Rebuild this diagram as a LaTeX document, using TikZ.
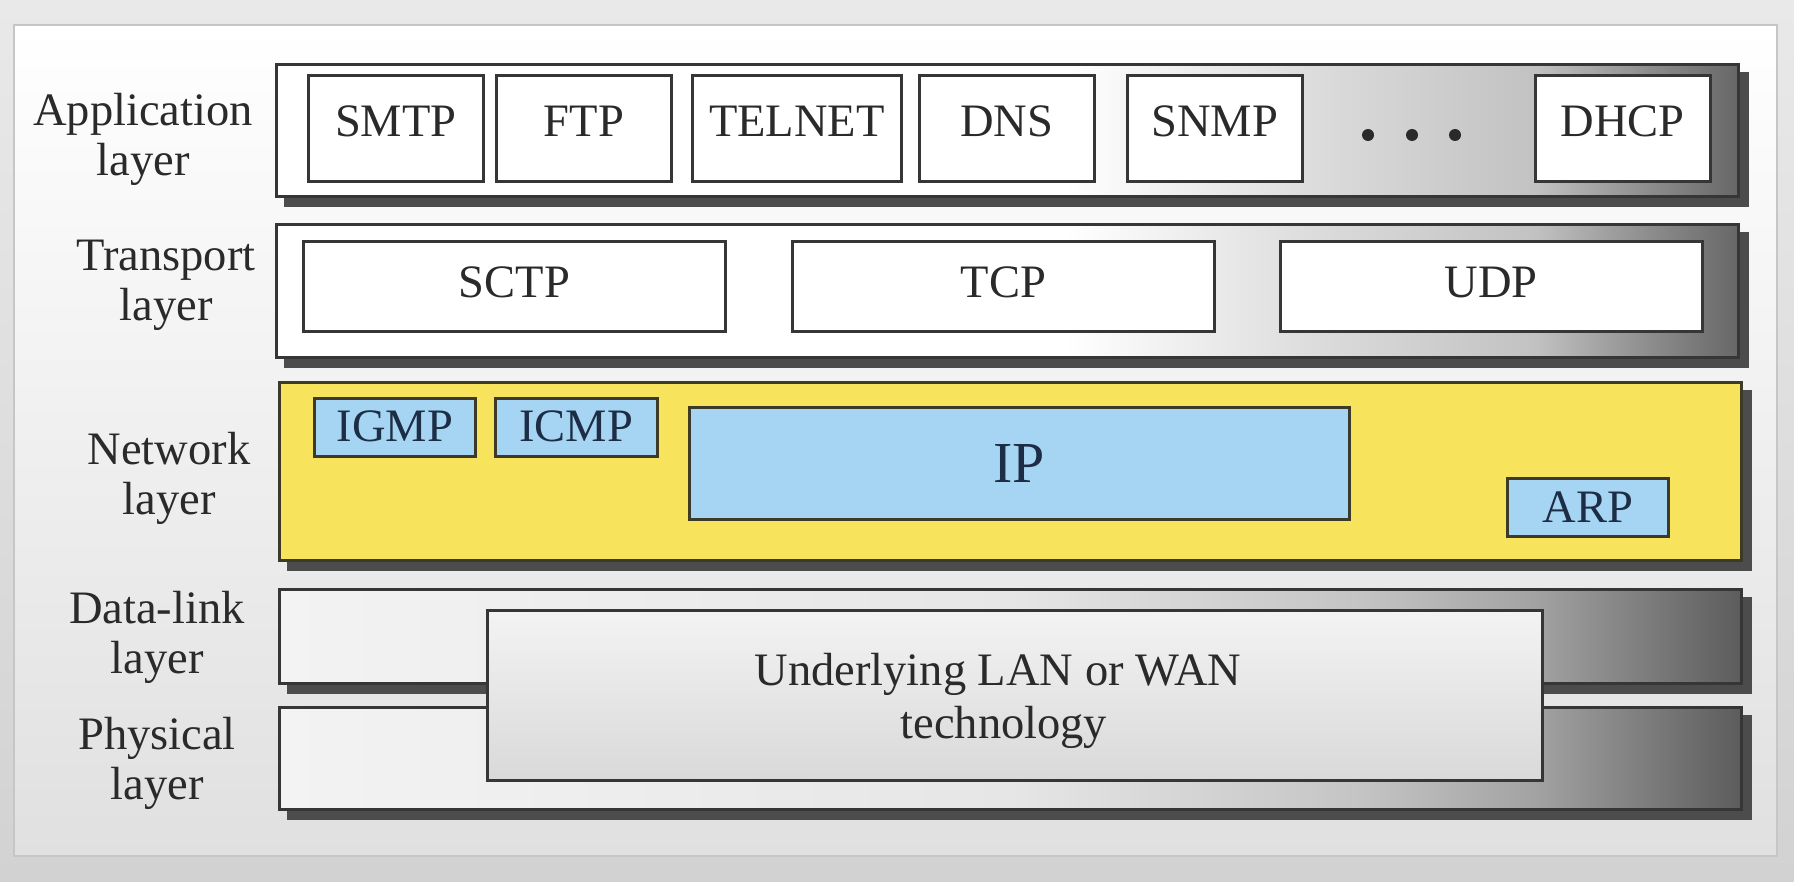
\documentclass[tikz,border=0pt]{standalone}
\usepackage{fontspec}
\setmainfont{Liberation Serif}
\usetikzlibrary{backgrounds}
\definecolor{bgtop}{HTML}{E9E9E9}
\definecolor{bgbot}{HTML}{D2D2D2}
\definecolor{panelbot}{HTML}{E0E0E0}
\definecolor{panelline}{HTML}{C6C6C6}
\definecolor{textc}{HTML}{2A2A2A}
\definecolor{linec}{HTML}{363636}
\definecolor{shadowc}{HTML}{4C4C4C}
\definecolor{yellowc}{HTML}{F8E45C}
\definecolor{bluec}{HTML}{A6D5F3}
\definecolor{bluetext}{HTML}{1D2D45}
\definecolor{netline}{HTML}{3D3A28}
\definecolor{ga}{HTML}{DADADA}
\definecolor{gb}{HTML}{C2C2C2}
\definecolor{gc}{HTML}{8C8C8C}
\definecolor{gd}{HTML}{676767}
\definecolor{da}{HTML}{F3F3F3}
\definecolor{db}{HTML}{E6E6E6}
\definecolor{dc}{HTML}{C4C4C4}
\definecolor{dd}{HTML}{A2A2A2}
\definecolor{de}{HTML}{5C5C5C}
\definecolor{ultop}{HTML}{F3F3F3}
\definecolor{ulbot}{HTML}{D9D9D9}
\pgfdeclarehorizontalshading{layershade}{100bp}{color(0bp)=(white); color(25bp)=(white); color(52bp)=(white); color(61bp)=(ga); color(68bp)=(gb); color(72bp)=(gc); color(75bp)=(gd); color(100bp)=(gd)}
\pgfdeclarehorizontalshading{linkshade}{100bp}{color(0bp)=(da); color(25bp)=(da); color(50bp)=(db); color(62bp)=(dc); color(68bp)=(dd); color(75bp)=(de); color(100bp)=(de)}
\newcommand\bigf{\fontsize{46.5}{50}\selectfont}
\begin{document}
\begin{tikzpicture}[x=1pt,y=-1pt,
  every node/.style={text=textc, font=\bigf, inner sep=0pt},
  layerbox/.style={draw=linec, line width=2.8pt, anchor=north west, shading=layershade, shade},
  linkbox/.style={draw=linec, line width=2.8pt, anchor=north west, shading=linkshade, shade},
  netbox/.style={draw=netline, line width=2.8pt, anchor=north west, fill=yellowc},
  protobox/.style={draw=linec, line width=2.6pt, anchor=north west, fill=white},
  appproto/.style={protobox, minimum height=106pt, text depth=14pt},
  traproto/.style={protobox, minimum width=422pt, minimum height=90pt, text depth=8pt},
  bluebox/.style={draw=netline, line width=2.6pt, anchor=north west, fill=bluec, text=bluetext},
  lbl/.style={align=center},
  shadowfill/.style={fill=shadowc}]
\useasboundingbox (0,0) rectangle (1794,882);
\begin{scope}[on background layer]
  \fill[top color=bgtop, bottom color=bgbot] (0,0) rectangle (1794,882);
  \filldraw[top color=white, bottom color=panelbot, draw=panelline, line width=1.5pt] (14,25) rectangle (1777,856);
\end{scope}

% layer labels
\node[lbl] (lapp) at (143,139) {Application\\layer};
\node[lbl] (ltra) at (166,285) {Transport\\layer};
\node[lbl] (lnet) at (169,478) {Network\\layer};
\node[lbl] (llink) at (157,637) {Data-link\\layer};
\node[lbl] (lphy) at (157,763) {Physical\\layer};

% application layer
\node[layerbox, minimum width=1462pt, minimum height=132pt] (app) at (275,63) {};
\node[appproto, minimum width=175pt] (smtp) at (307,74) {SMTP};
\node[appproto, minimum width=175pt] (ftp) at (495,74) {FTP};
\node[appproto, minimum width=209pt] (telnet) at (691,74) {TELNET};
\node[appproto, minimum width=175pt] (dns) at (918,74) {DNS};
\node[appproto, minimum width=175pt] (snmp) at (1126,74) {SNMP};
\node[appproto, minimum width=175pt] (dhcp) at (1534,74) {DHCP};
\fill[textc] (1368,135) circle (6pt) (1412,135) circle (6pt) (1455,135) circle (6pt);

% transport layer
\node[layerbox, minimum width=1462pt, minimum height=133pt] (tra) at (275,223) {};
\node[traproto] (sctp) at (302,240) {SCTP};
\node[traproto] (tcp) at (791,240) {TCP};
\node[traproto] (udp) at (1279,240) {UDP};

% network layer
\node[netbox, minimum width=1462pt, minimum height=178pt] (net) at (278,381) {};
\node[bluebox, minimum width=161pt, minimum height=58pt, text depth=3pt] (igmp) at (313,397) {IGMP};
\node[bluebox, minimum width=162pt, minimum height=58pt, text depth=3pt] (icmp) at (494,397) {ICMP};
\node[bluebox, minimum width=660pt, minimum height=112pt, font=\fontsize{58}{64}\selectfont] (ip) at (688,406) {IP};
\node[bluebox, minimum width=161pt, minimum height=58pt] (arp) at (1506,477) {ARP};

% data-link and physical
\node[linkbox, minimum width=1462pt, minimum height=94pt] (link) at (278,588) {};
\node[linkbox, minimum width=1462pt, minimum height=102pt] (phy) at (278,706) {};
\node[draw=linec, line width=2.8pt, anchor=north west, top color=ultop, bottom color=ulbot,
      minimum width=1055pt, minimum height=170pt] (ul) at (486,609) {};
\node[align=center, font=\fontsize{46.5}{53}\selectfont] (ultext) at ([xshift=-17pt,yshift=-5pt]ul.center) {Underlying LAN or WAN\\\hspace*{12pt}technology};

% shadows
\begin{scope}[on background layer]
  \foreach \n in {app,tra,net,link,phy}{
    \fill[shadowfill] ([xshift=9pt,yshift=-9pt]\n.south west) rectangle ([xshift=9pt,yshift=-9pt]\n.north east);
  }
\end{scope}
\end{tikzpicture}
\end{document}
